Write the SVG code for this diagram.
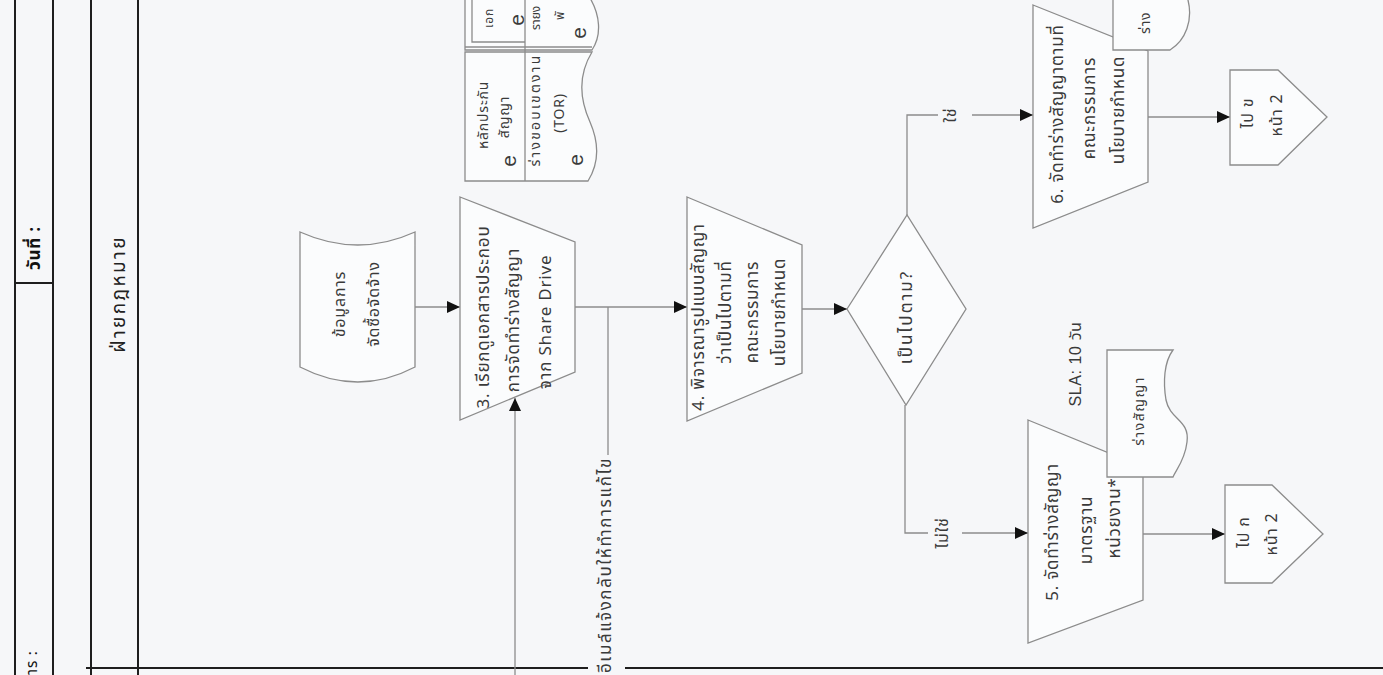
<svg xmlns="http://www.w3.org/2000/svg" width="1383" height="675" viewBox="0 0 1383 675">
<defs>
<marker id="arr" markerUnits="userSpaceOnUse" markerWidth="14" markerHeight="12" refX="13" refY="6" orient="auto"><path d="M0,0 L13,6 L0,12 Z" fill="#111"/></marker>
<style>
text{font-family:"Noto Sans Thai","Noto Sans","DejaVu Sans","Liberation Sans",sans-serif;fill:#3a3a3a;dominant-baseline:central;text-anchor:middle;letter-spacing:0.8px}
.lane{stroke:#1e1e1e;stroke-width:2;fill:none}
.shp{fill:#fbfcfd;stroke:#8c8c8c;stroke-width:1.3}
.cn{fill:none;stroke:#8c8c8c;stroke-width:1.3}
.t17{font-size:17px}
.t16{font-size:16px}
.t15{font-size:15px}
.t14{font-size:14px}
.e{font-size:21px;font-family:"Liberation Sans",sans-serif;letter-spacing:0}
</style>
</defs>
<rect width="1383" height="675" fill="#f6f7f9"/>
<g id="frame">
<line class="lane" x1="15" y1="0" x2="15" y2="675"/>
<line class="lane" x1="53" y1="0" x2="53" y2="675"/>
<line class="lane" x1="91" y1="0" x2="91" y2="675"/>
<line class="lane" x1="138" y1="0" x2="138" y2="675"/>
<line class="lane" x1="15" y1="283" x2="53" y2="283"/>
<line class="lane" x1="86" y1="668" x2="588" y2="668"/>
<line class="lane" x1="625" y1="668" x2="1383" y2="668"/>
<text transform="translate(35,248) rotate(-90)" style="font-size:17px;font-weight:bold;fill:#111">วันที่ :</text>
<text transform="translate(32,675) rotate(-90)" style="font-size:15px;fill:#111;text-anchor:start">าร :</text>
<text transform="translate(119,294) rotate(-90)" style="font-size:19px;letter-spacing:2.4px;fill:#222">ฝ่ายกฎหมาย</text>
</g>
<g id="connectors">
<line class="cn" x1="415" y1="307" x2="460" y2="307" marker-end="url(#arr)"/>
<line class="cn" x1="575" y1="307" x2="687" y2="307" marker-end="url(#arr)"/>
<line class="cn" x1="608" y1="307" x2="608" y2="455"/>
<line class="cn" x1="515" y1="675" x2="515" y2="398" marker-end="url(#arr)"/>
<line class="cn" x1="802" y1="309" x2="847" y2="309" marker-end="url(#arr)"/>
<polyline class="cn" points="907,215 907,115 938,115"/>
<line class="cn" x1="972" y1="115" x2="1033" y2="115" marker-end="url(#arr)"/>
<polyline class="cn" points="905,405 905,533 928,533"/>
<line class="cn" x1="962" y1="533" x2="1028" y2="533" marker-end="url(#arr)"/>
<line class="cn" x1="1148" y1="117" x2="1230" y2="117" marker-end="url(#arr)"/>
<line class="cn" x1="1143" y1="534" x2="1225" y2="534" marker-end="url(#arr)"/>
<text transform="translate(606,457) rotate(-90)" style="font-size:17px;letter-spacing:1.6px;text-anchor:end">อีเมล์แจ้งกลับให้ทำการแก้ไข</text>
<text transform="translate(951,115) rotate(-90)" class="t16">ใช่</text>
<text transform="translate(943,533) rotate(-90)" class="t16">ไม่ใช่</text>
</g>
<g id="docs-top">
<path class="shp" d="M465,-2 L590,-2 C600,15 602,35 592,50 L465,50 Z"/>
<path class="shp" d="M465,52 L592,52 C578,75 580,100 590,122 C600,145 598,165 588,181 L465,181 Z"/>
<line class="cn" x1="525" y1="0" x2="525" y2="181"/>
<line class="cn" x1="465" y1="47" x2="592" y2="47"/>
<polyline class="cn" points="472,0 472,42 525,42"/>
<text transform="translate(489,28) rotate(-90)" style="font-size:12px;text-anchor:start">เอก</text>
<text transform="translate(516,20) rotate(-90)" class="e">e</text>
<text transform="translate(536,30) rotate(-90)" style="font-size:12px;letter-spacing:0;text-anchor:start">รายง</text>
<text transform="translate(560,20) rotate(-90)" style="font-size:12px;text-anchor:start">พั</text>
<text transform="translate(578,33) rotate(-90)" class="e">e</text>
<text transform="translate(483,115) rotate(-90)" class="t14">หลักประกัน</text>
<text transform="translate(504,117) rotate(-90)" class="t14">สัญญา</text>
<text transform="translate(508,161) rotate(-90)" class="e">e</text>
<text transform="translate(535,110) rotate(-90)" style="font-size:14px;letter-spacing:2.2px">ร่างขอบเขตงาน</text>
<text transform="translate(559,113) rotate(-90)" class="t14">(TOR)</text>
<text transform="translate(575,160) rotate(-90)" class="e">e</text>
</g>
<g id="data-input">
<path class="shp" d="M300,232 Q358,258 415,232 L415,367 Q358,397 300,367 Z"/>
<text transform="translate(340,304) rotate(-90)" class="t16">ข้อมูลการ</text>
<text transform="translate(374,304) rotate(-90)" class="t16">จัดซื้อจัดจ้าง</text>
</g>
<g id="step3">
<polygon class="shp" points="460,197 575,242 575,372 460,420"/>
<text transform="translate(484,317) rotate(-90)" class="t17">3. เรียกดูเอกสารประกอบ</text>
<text transform="translate(514,320) rotate(-90)" class="t17">การจัดทำร่างสัญญา</text>
<text transform="translate(546,322) rotate(-90)" class="t17">จาก Share Drive</text>
</g>
<g id="step4">
<polygon class="shp" points="687,197 802,245 802,373 687,421"/>
<text transform="translate(699,317) rotate(-90)" class="t17">4. พิจารณารูปแบบสัญญา</text>
<text transform="translate(726,312) rotate(-90)" class="t17">ว่าเป็นไปตามที่</text>
<text transform="translate(753,312) rotate(-90)" class="t17">คณะกรรมการ</text>
<text transform="translate(780,312) rotate(-90)" class="t17">นโยบายกำหนด</text>
</g>
<g id="decision">
<polygon class="shp" points="847,309 907,215 966,309 906,405"/>
<text transform="translate(907,317) rotate(-90)" style="font-size:17px;letter-spacing:2px">เป็นไปตาม?</text>
</g>
<g id="step6">
<polygon class="shp" points="1033,5 1148,51 1148,182 1033,228"/>
<text transform="translate(1058,114) rotate(-90)" class="t17">6. จัดทำร่างสัญญาตามที่</text>
<text transform="translate(1090,108) rotate(-90)" class="t17">คณะกรรมการ</text>
<text transform="translate(1119,110) rotate(-90)" class="t17">นโยบายกำหนด</text>
</g>
<g id="doc-top">
<path class="shp" d="M1113,-5 L1113,50 L1170,50 C1186,40 1193,20 1188,0 L1187,-5 Z"/>
<text transform="translate(1145,34) rotate(-90)" class="t14" style="text-anchor:start">ร่าง</text>
</g>
<g id="step5">
<polygon class="shp" points="1028,420 1143,467 1143,600 1028,643"/>
<text transform="translate(1053,532) rotate(-90)" class="t17">5. จัดทำร่างสัญญา</text>
<text transform="translate(1087,530) rotate(-90)" class="t17">มาตรฐาน</text>
<text transform="translate(1115,518) rotate(-90)" class="t17">หน่วยงาน*</text>
</g>
<g id="sla">
<text transform="translate(1075,364) rotate(-90)" style="font-size:16px;letter-spacing:0.6px;font-family:'Liberation Sans','Noto Sans Thai',sans-serif">SLA: 10 วัน</text>
</g>
<g id="doc-draft">
<path class="shp" d="M1107,350 L1173,350 C1164,362 1163,382 1166,400 C1170,420 1190,420 1187,442 C1185,460 1176,470 1173,477 L1107,477 Z"/>
<text transform="translate(1139,411) rotate(-90)" style="font-size:14px;letter-spacing:1.5px">ร่างสัญญา</text>
</g>
<g id="offpage-b">
<polygon class="shp" points="1230,70 1278,70 1327,117 1278,165 1230,165"/>
<text transform="translate(1248,113) rotate(-90)" class="t16">ไป ข</text>
<text transform="translate(1277,115) rotate(-90)" class="t16">หน้า 2</text>
</g>
<g id="offpage-a">
<polygon class="shp" points="1225,485 1272,485 1323,534 1272,583 1225,583"/>
<text transform="translate(1244,532) rotate(-90)" class="t16">ไป ก</text>
<text transform="translate(1272,534) rotate(-90)" class="t16">หน้า 2</text>
</g>
</svg>
